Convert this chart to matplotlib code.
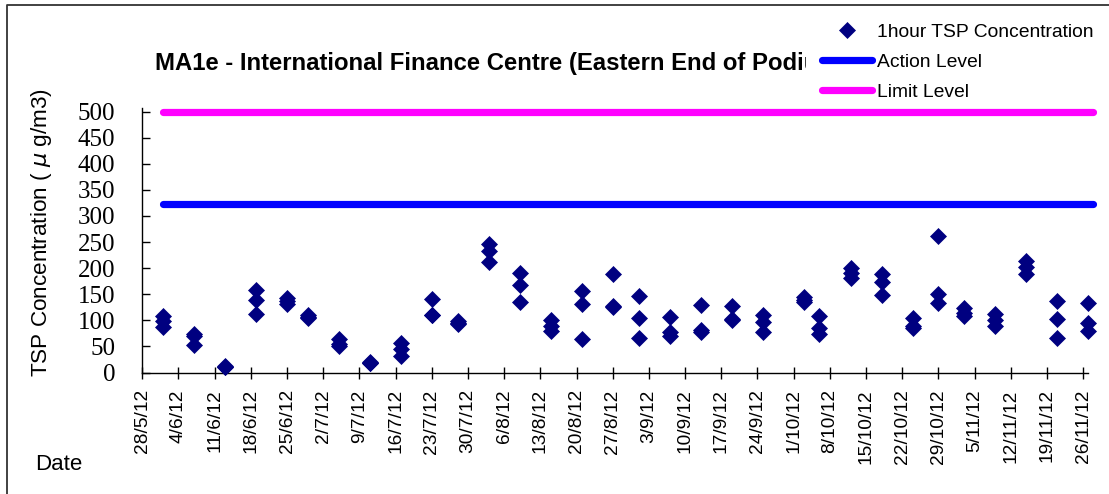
import matplotlib
matplotlib.use("Agg")
import matplotlib.pyplot as plt
import pandas as pd
from matplotlib.lines import Line2D
from matplotlib.patches import Rectangle

# ---- data ----
sample_dates = ["2012-06-01", "2012-06-07", "2012-06-13", "2012-06-19", "2012-06-25",
                "2012-06-29", "2012-07-05", "2012-07-11", "2012-07-17", "2012-07-23",
                "2012-07-28", "2012-08-03", "2012-08-09", "2012-08-15", "2012-08-21",
                "2012-08-27", "2012-09-01", "2012-09-07", "2012-09-13", "2012-09-19",
                "2012-09-25", "2012-10-03", "2012-10-06", "2012-10-12", "2012-10-18",
                "2012-10-24", "2012-10-29", "2012-11-03", "2012-11-09", "2012-11-15",
                "2012-11-21", "2012-11-27"]
hour1 = [109, 73, 13, 159, 142, 110, 64, 21, 57, 141, 98, 246, 191, 100, 156, 189,
         147, 106, 129, 127, 110, 144, 108, 200, 189, 104, 262, 123, 112, 214, 138, 134]
hour2 = [98, 70, 11, 139, 137, 107, 55, 19, 46, 111, 95, 233, 167, 90, 131, 127,
         105, 78, 81, 103, 97, 139, 86, 190, 174, 90, 150, 115, 101, 202, 102, 94]
hour3 = [88, 52, 10, 112, 131, 104, 50, 18, 31, 110, 93, 211, 135, 80, 64, 125,
         67, 70, 77, 101, 77, 135, 74, 181, 149, 86, 134, 108, 90, 189, 67, 80]

action_level = 323
limit_level = 500
level_dates = ["2012-06-01", "2012-11-28"]
axis_dates = ["2012-05-28", "2012-11-27"]
tick_range = ["2012-05-28", "2012-11-26"]

title = "MA1e - International Finance Centre (Eastern End of Podium)"
labels = ["1hour TSP Concentration", "Action Level", "Limit Level"]

plt.rcParams['font.family'] = ['Liberation Sans', 'DejaVu Sans']

W, H = 1109, 494
fig = plt.figure(figsize=(W / 100, H / 100), dpi=100)
ax = fig.add_axes([142.3 / W, 1 - 372.5 / H, 946 / W, (372.5 - 108) / H])

navy = '#000080'
ms = 8
days = pd.to_datetime(sample_dates)
for vals in (hour1, hour2, hour3):
    ax.plot(days, vals, ls='none', marker='D', ms=ms, color=navy,
            mew=0.5, clip_on=False, zorder=3)

lv = pd.to_datetime(level_dates)
ax.plot(lv, [action_level] * 2, color='#0000FF', lw=5.2,
        solid_capstyle='round', clip_on=False)
ax.plot(lv, [limit_level] * 2, color='#FF00FF', lw=5.2,
        solid_capstyle='round', clip_on=False)

ax.set_xlim(pd.to_datetime(axis_dates))
ax.set_ylim(0, 507)

ticks = pd.date_range(tick_range[0], tick_range[1], freq='7D')
ax.set_xticks(ticks)
ax.set_xticklabels([f"{d.day}/{d.month}/{d:%y}" for d in ticks],
                   rotation=90, fontsize=13.8)
ax.set_yticks(range(0, 501, 50))
ax.set_yticklabels([str(v) for v in range(0, 501, 50)],
                   family='Liberation Serif', fontsize=18)

ax.tick_params(axis='x', direction='inout', length=8, width=1, pad=8)
ax.tick_params(axis='y', direction='in', length=6, width=1, pad=19.5)
for s in ('top', 'right'):
    ax.spines[s].set_visible(False)
for s in ('left', 'bottom'):
    ax.spines[s].set_linewidth(1)

# texts
fig.text(42 / W, 1 - 233 / H, 'TSP Concentration ( $\\mu$ g/m3)',
         rotation=90, ha='center', va='center', fontsize=16.2)
fig.text(35 / W, 1 - 470 / H, 'Date', fontsize=16, va='baseline')
fig.text(155 / W, 1 - 70 / H, title, fontsize=17.2, weight='bold', va='baseline')

# white box behind legend hides end of the title
fig.add_artist(Rectangle((806 / W, 1 - 104 / H), 300 / W, 96 / H,
                         transform=fig.transFigure, facecolor='white',
                         edgecolor='none', zorder=4))

handles = [Line2D([], [], ls='none', marker='D', ms=ms, color=navy, mew=0.5),
           Line2D([], [], color='#0000FF', lw=5.2, solid_capstyle='round'),
           Line2D([], [], color='#FF00FF', lw=5.2, solid_capstyle='round')]
leg = fig.legend(handles, labels, loc='upper left',
                 bbox_to_anchor=(822 / W, 1 - 23.5 / H), frameon=False,
                 borderpad=0, borderaxespad=0, handlelength=2.59,
                 handletextpad=0.26, labelspacing=0.64, fontsize=13.9)
leg.set_zorder(5)

# outer chart frame (left and top edges visible)
fig.add_artist(Line2D([7 / W, 7 / W, 1], [0, 1 - 5.5 / H, 1 - 5.5 / H],
                      transform=fig.transFigure, color='#333333', lw=1.3))

fig.savefig('out.png', dpi=100)
